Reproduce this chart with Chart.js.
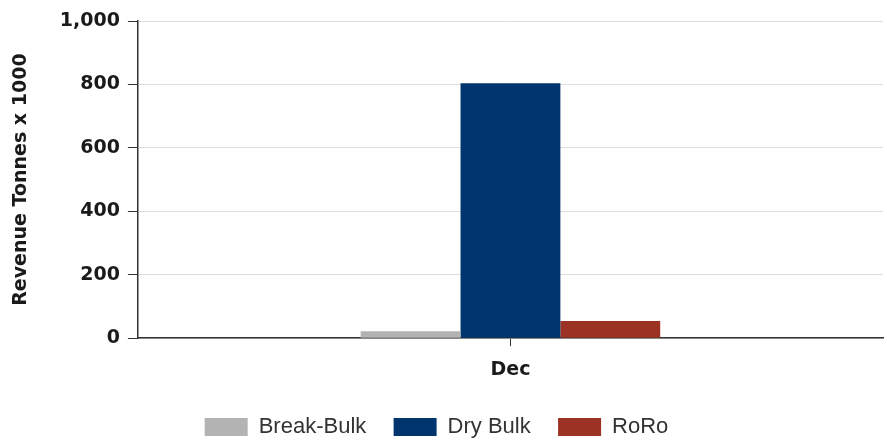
<!DOCTYPE html>
<html>
<head>
<meta charset="utf-8">
<script src="https://cdn.jsdelivr.net/npm/chart.js@4"></script>
<style>
  html, body { margin: 0; padding: 0; background: #fff; }
  #wrap { width: 887px; height: 448px; }
</style>
</head>
<body>
<div id="wrap"><canvas id="chart"></canvas></div>
<script>
// datos del grafico
const categories = ['Dec'];
const seriesNames = ['Break-Bulk', 'Dry Bulk', 'RoRo'];
const breakBulk = [22];
const dryBulk = [804];
const roro = [54];
const seriesColors = ['#b3b3b3', '#00356e', '#9b3223'];
const yTicks = [0, 200, 400, 600, 800, 1000];

const ctx = document.getElementById('chart').getContext('2d');

// mueve la leyenda un poco a la izquierda, como en el original
const legendShift = {
    id: 'legendShift',
    afterLayout: function (chart) {
        if (chart.legend) {
            chart.legend.left -= 10;
            chart.legend.right -= 10;
        }
    }
};

new Chart(ctx, {
    type: 'bar',
    data: {
        labels: categories,
        datasets: [
            { label: seriesNames[0], data: breakBulk, backgroundColor: seriesColors[0] },
            { label: seriesNames[1], data: dryBulk, backgroundColor: seriesColors[1] },
            { label: seriesNames[2], data: roro, backgroundColor: seriesColors[2] }
        ]
    },
    options: {
        responsive: true,
        maintainAspectRatio: false,
        animation: false,
        categoryPercentage: 0.402,
        barPercentage: 1,
        layout: { padding: { top: 21, right: 4, left: 10, bottom: 0 } },
        plugins: {
            tooltip: { enabled: false },
            legend: {
                position: 'bottom',
                labels: {
                    boxWidth: 43,
                    boxHeight: 18,
                    padding: 9,
                    color: '#333',
                    font: { family: '"Liberation Sans", Arial, sans-serif', size: 22 },
                    generateLabels: function (chart) {
                        const items = Chart.defaults.plugins.legend.labels.generateLabels(chart);
                        items.forEach(function (it, i) {
                            it.lineWidth = 0;
                            if (i < items.length - 1) it.text = it.text + '   ';
                        });
                        return items;
                    }
                }
            }
        },
        scales: {
            x: {
                afterFit: function (axis) {
                    axis.height += 14;
                },
                grid: {
                    offset: false,
                    drawOnChartArea: false,
                    tickLength: 8,
                    tickColor: '#333'
                },
                border: { color: '#333', width: 1.5 },
                ticks: {
                    color: '#1a1a1a',
                    padding: 12,
                    font: { family: '"DejaVu Sans", Verdana, sans-serif', size: 19, weight: 'bold' }
                }
            },
            y: {
                min: 0,
                max: 1000,
                afterBuildTicks: function (axis) {
                    axis.ticks = yTicks.map(function (v) { return { value: v }; });
                },
                grid: {
                    color: '#dedede',
                    tickColor: '#333',
                    tickLength: 10
                },
                border: { color: '#333', width: 1.5 },
                ticks: {
                    color: '#1a1a1a',
                    padding: 8,
                    font: { family: '"DejaVu Sans", Verdana, sans-serif', size: 19, weight: 'bold' }
                },
                title: {
                    display: true,
                    text: 'Revenue Tonnes x 1000',
                    color: '#1a1a1a',
                    padding: { top: 0, bottom: 19 },
                    font: { family: '"DejaVu Sans", Verdana, sans-serif', size: 19, weight: 'bold' }
                }
            }
        }
    },
    plugins: [legendShift]
});
</script>
</body>
</html>
